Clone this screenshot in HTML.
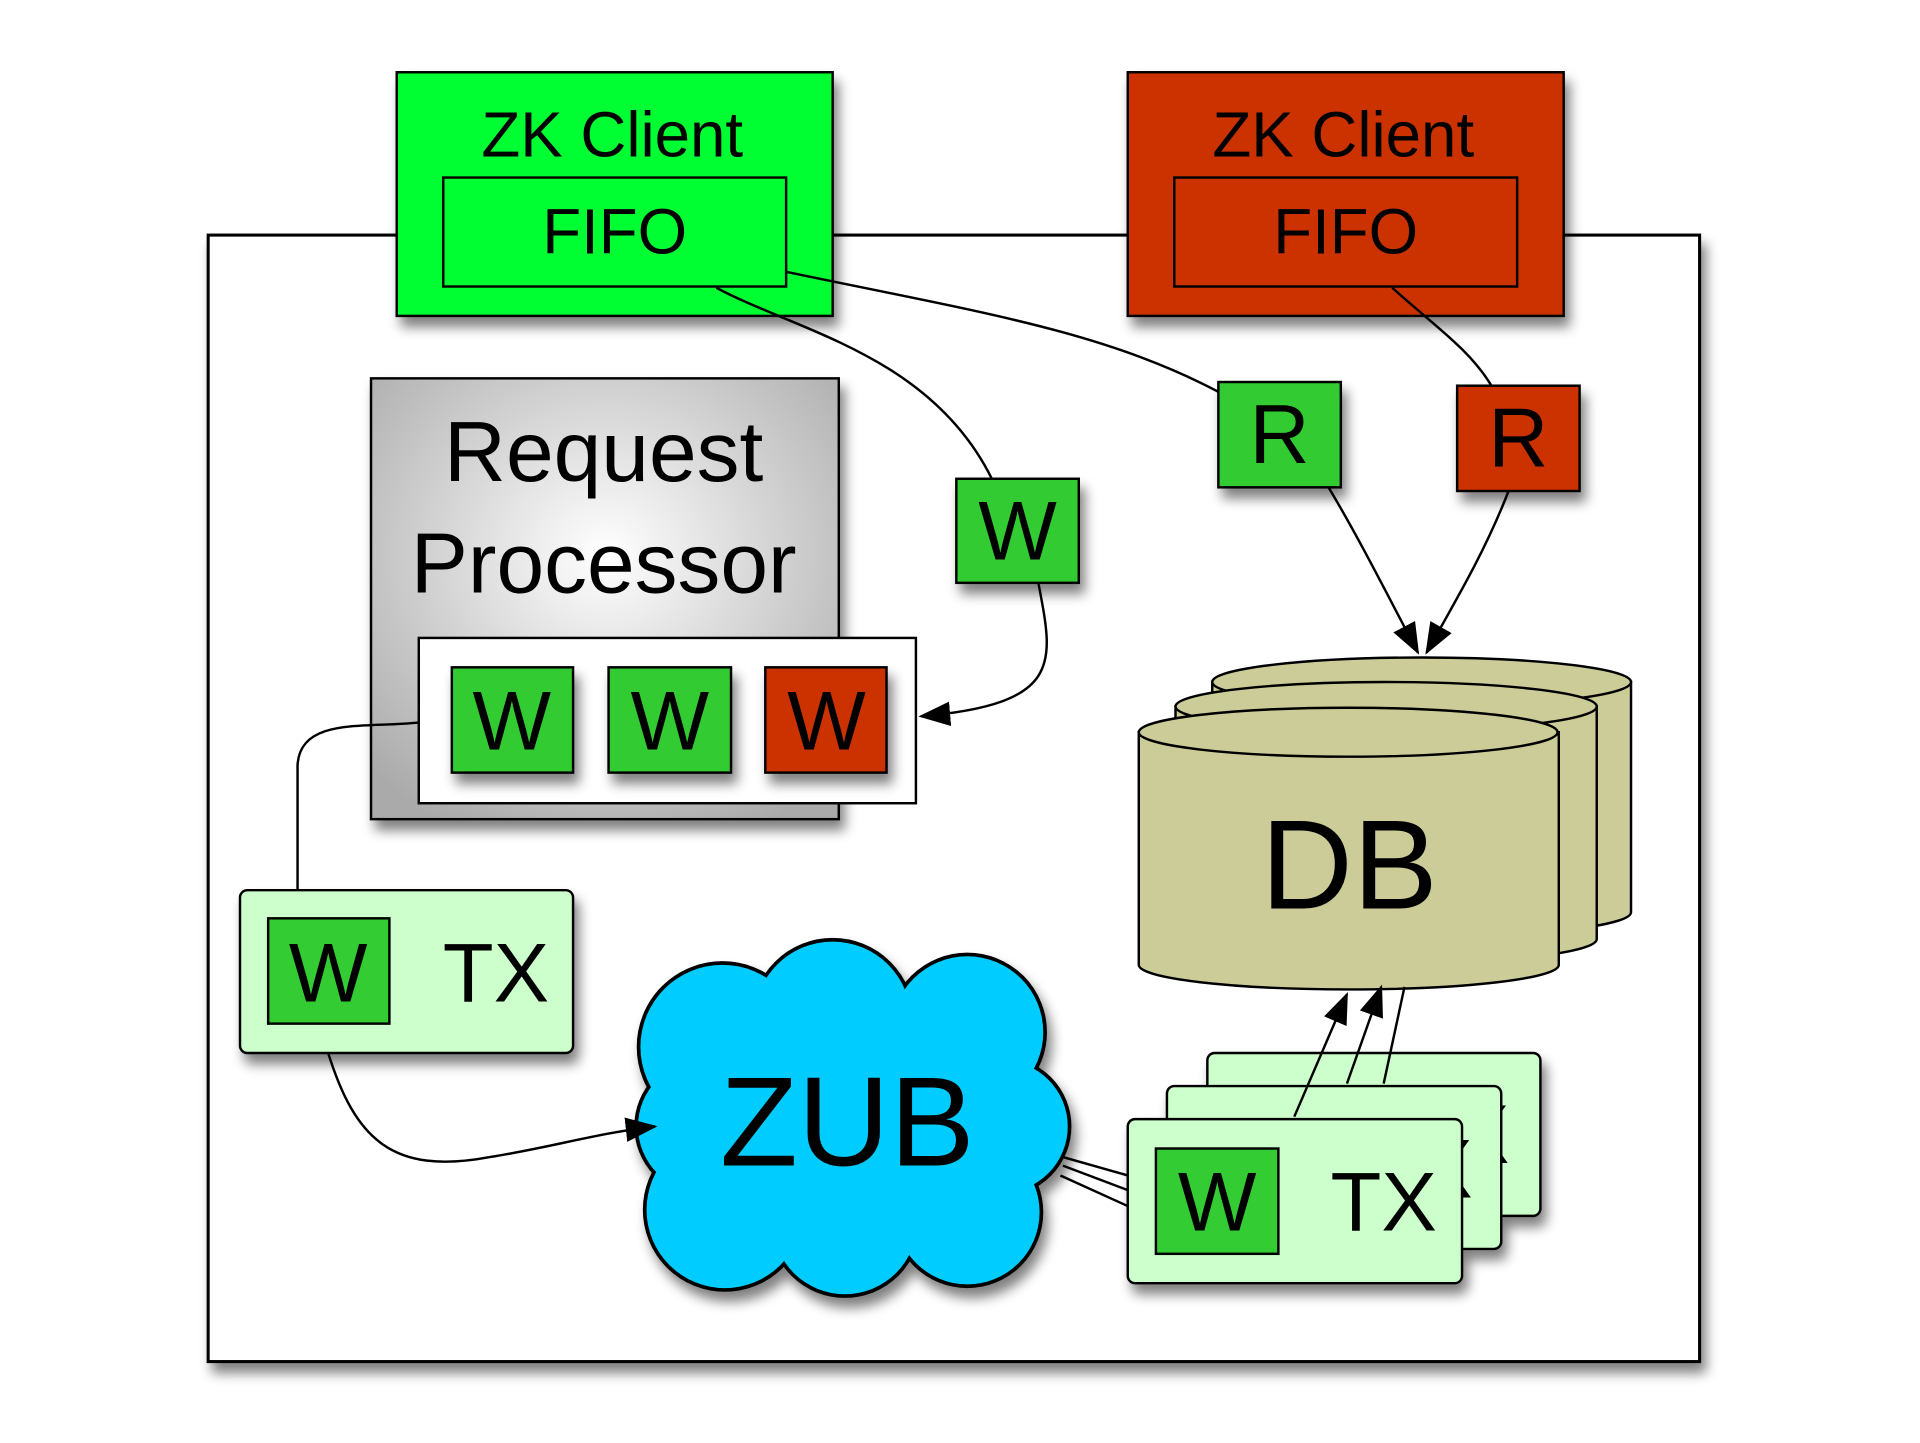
<!DOCTYPE html>
<html><head><meta charset="utf-8"><style>html,body{margin:0;padding:0;background:#fff}svg{display:block}text{font-family:"Liberation Sans",sans-serif;text-anchor:middle;fill:#000}</style></head>
<body>
<svg width="1920" height="1443" viewBox="0 0 1568 1178.5" preserveAspectRatio="none" xmlns="http://www.w3.org/2000/svg">
<defs>
<filter id="sh" x="-20%" y="-20%" width="150%" height="150%"><feGaussianBlur in="SourceAlpha" stdDeviation="5"/><feOffset dx="4" dy="8"/><feComponentTransfer><feFuncA type="linear" slope="0.5"/></feComponentTransfer><feMerge><feMergeNode/><feMergeNode in="SourceGraphic"/></feMerge></filter>
<radialGradient id="rg" cx="0.5" cy="0.4" r="0.7"><stop offset="0" stop-color="#ffffff"/><stop offset="1" stop-color="#aaaaaa"/></radialGradient>
<marker id="ar2" markerWidth="26" markerHeight="20" refX="24" refY="10" orient="auto" markerUnits="userSpaceOnUse" viewBox="0 0 26 20"><path d="M0,0 L26,10 L0,20 z" fill="#000"/></marker>
</defs>
<rect x="170" y="192" width="1218" height="920" fill="#fff" stroke="#000" stroke-width="2.5" filter="url(#sh)"/>

<rect x="324" y="59" width="356" height="199" fill="#00ff33" stroke="#000" stroke-width="2" filter="url(#sh)"/>
<text x="500" y="128" font-size="52">ZK Client</text>
<rect x="362" y="145" width="280" height="89" fill="none" stroke="#000" stroke-width="2"/>
<text x="502" y="207" font-size="52">FIFO</text>
<rect x="921" y="59" width="356" height="199" fill="#cc3300" stroke="#000" stroke-width="2" filter="url(#sh)"/>
<text x="1097" y="128" font-size="52">ZK Client</text>
<rect x="959" y="145" width="280" height="89" fill="none" stroke="#000" stroke-width="2"/>
<text x="1099" y="207" font-size="52">FIFO</text>

<rect x="303" y="309" width="382" height="360" fill="url(#rg)" stroke="#000" stroke-width="2" filter="url(#sh)"/>
<text x="493" y="393" font-size="70">Request</text>
<text x="493" y="484" font-size="70">Processor</text>
<rect x="342" y="521" width="406" height="135" fill="#fff" stroke="#000" stroke-width="2"/>
<g filter="url(#sh)">
<rect x="369" y="545" width="99" height="86" fill="#33cc33" stroke="#000" stroke-width="2"/>
<rect x="497" y="545" width="100" height="86" fill="#33cc33" stroke="#000" stroke-width="2"/>
<rect x="625" y="545" width="99" height="86" fill="#cc3300" stroke="#000" stroke-width="2"/>
<rect x="781" y="391" width="100" height="85" fill="#33cc33" stroke="#000" stroke-width="2"/>
<rect x="995" y="312" width="100" height="86" fill="#33cc33" stroke="#000" stroke-width="2"/>
<rect x="1190" y="315" width="100" height="86" fill="#cc3300" stroke="#000" stroke-width="2"/>
</g>
<g font-size="68">
<text x="418" y="612">W</text><text x="547" y="612">W</text><text x="675" y="612">W</text>
<text x="831" y="457">W</text><text x="1045" y="378">R</text><text x="1240" y="381">R</text>
</g>

<g stroke="#000" stroke-width="2" fill="#cccc99">
<path d="M990,557 L990,745 A171,20 0 0 0 1332,745 L1332,557 Z"/><ellipse cx="1161" cy="557" rx="171" ry="20"/>
<path d="M960,577 L960,767 A172,20 0 0 0 1304,767 L1304,577 Z"/><ellipse cx="1132" cy="577" rx="172" ry="20"/>
<path d="M930,598 L930,788 A171,20 0 0 0 1273,788 L1273,598 Z"/><ellipse cx="1101" cy="598" rx="171" ry="20"/>
</g>
<text x="1102" y="742" font-size="104">DB</text>

<rect x="196" y="727" width="272" height="133" rx="6" fill="#ccffcc" stroke="#000" stroke-width="2" filter="url(#sh)"/>
<rect x="219" y="750" width="99" height="86" fill="#33cc33" stroke="#000" stroke-width="2"/>
<text x="268" y="818" font-size="68">W</text>
<text x="405" y="818" font-size="68">TX</text>

<g filter="url(#sh)">
<g fill="#00ccff" stroke="#000" stroke-width="4">
<circle cx="590" cy="855" r="68"/><circle cx="680" cy="833" r="65"/><circle cx="790" cy="843" r="63"/><circle cx="818" cy="920" r="55"/><circle cx="790" cy="990" r="60"/><circle cx="690" cy="998" r="60"/><circle cx="592" cy="988" r="65"/><circle cx="575" cy="920" r="55"/>
</g>
<g fill="#00ccff">
<circle cx="590" cy="855" r="67"/><circle cx="680" cy="833" r="64"/><circle cx="790" cy="843" r="62"/><circle cx="818" cy="920" r="54"/><circle cx="790" cy="990" r="59"/><circle cx="690" cy="998" r="59"/><circle cx="592" cy="988" r="64"/><circle cx="575" cy="920" r="54"/><circle cx="690" cy="920" r="100"/>
</g>
</g>
<text x="692" y="952" font-size="104">ZUB</text>

<g filter="url(#sh)">
<rect x="986" y="860" width="272" height="133" rx="6" fill="#ccffcc" stroke="#000" stroke-width="2"/>
<text x="1210" y="950" font-size="68">X</text>
<rect x="953" y="887" width="273" height="133" rx="6" fill="#ccffcc" stroke="#000" stroke-width="2"/>
<text x="1180" y="978" font-size="68">X</text>
<rect x="921" y="914" width="273" height="134" rx="6" fill="#ccffcc" stroke="#000" stroke-width="2"/>
</g>
<rect x="944" y="938" width="100" height="86" fill="#33cc33" stroke="#000" stroke-width="2"/>
<text x="994" y="1005" font-size="68">W</text>
<text x="1130" y="1005" font-size="68">TX</text>

<g fill="none" stroke="#000" stroke-width="2">
<path d="M585,235 C650,270 760,290 810,391"/>
<path d="M642,222 C800,255 900,270 995,320"/>
<path d="M1137,235 C1170,265 1200,285 1218,315"/>
<path d="M1085,398 C1110,440 1130,480 1158,533" marker-end="url(#ar2)"/>
<path d="M1232,401 C1215,445 1195,480 1165,533" marker-end="url(#ar2)"/>
<path d="M848,476 C860,540 870,575 752,585" marker-end="url(#ar2)"/>
<path d="M342,590 C300,595 245,585 243,625 L243,727"/>
<path d="M268,860 C290,930 320,960 400,945 C450,937 490,925 535,920" marker-end="url(#ar2)"/>
<path d="M868,945 L921,960"/><path d="M868,952 L921,972"/><path d="M866,960 L921,985"/>
<path d="M1057,912 L1100,812" marker-end="url(#ar2)"/>
<path d="M1100,885 L1128,806" marker-end="url(#ar2)"/>
<path d="M1130,885 L1147,806"/>
</g>
</svg>
</body></html>
